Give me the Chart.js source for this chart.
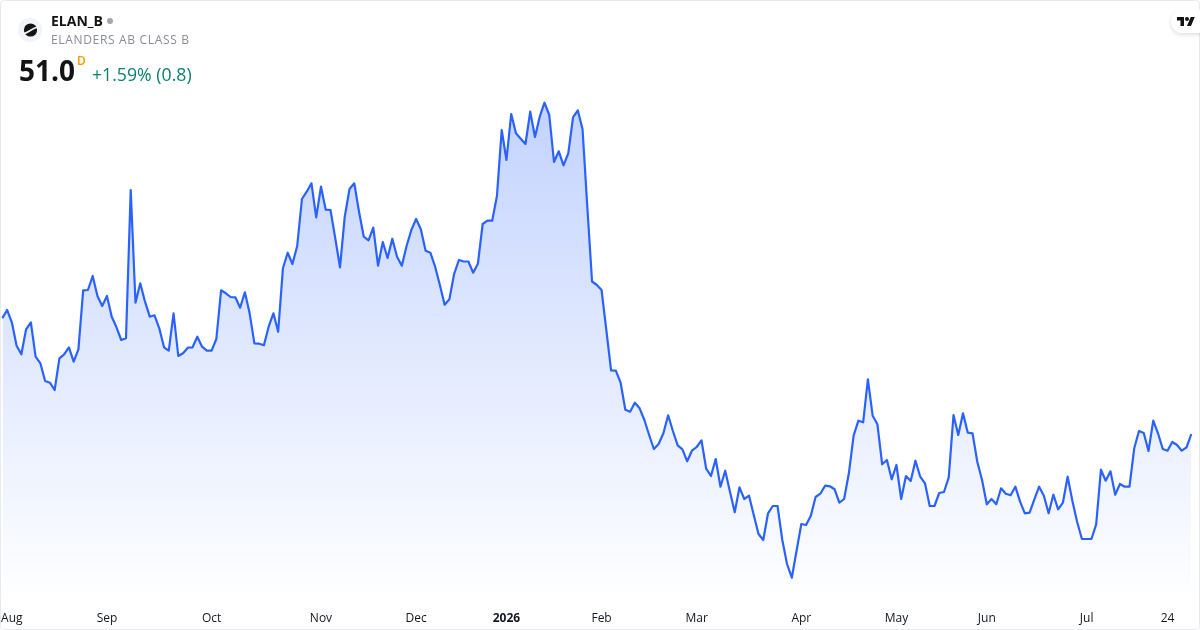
<!DOCTYPE html>
<html>
<head>
<meta charset="utf-8">
<title>ELAN_B</title>
<script src="https://cdn.jsdelivr.net/npm/chart.js@4"></script>
<style>
  html, body { margin: 0; padding: 0; background: #fff; }
  body { width: 1200px; height: 630px; overflow: hidden; position: relative; font-family: "Open Sans", sans-serif; }
  #card { position: absolute; inset: 0; border: 1px solid #e8eaef; border-radius: 4px; box-sizing: border-box; pointer-events: none; }
  #wrap { position: absolute; left: 0; top: 0; width: 1200px; height: 630px; }
  .t { position: absolute; white-space: nowrap; line-height: 1; }
  #symbol { left: 51px; top: 14px; font-size: 14px; font-weight: 700; color: #131313; }
  #dot { position: absolute; left: 107px; top: 18px; width: 6px; height: 6px; border-radius: 50%; background: #a3a6af; }
  #name { left: 51px; top: 34px; font-size: 12px; color: #8a8d96; letter-spacing: 0.67px; }
  #price { left: 19px; top: 56px; font-size: 28px; font-weight: 700; color: #131313; }
  #flag { left: 77px; top: 55px; font-size: 12px; font-weight: 600; color: #ff9800; }
  #change { left: 92px; top: 66px; font-size: 17.7px; color: #0b8170; }
  #logo { position: absolute; left: 18px; top: 18px; }
  #tv { position: absolute; left: 1171px; top: 10px; width: 40px; height: 23px; border-radius: 12px; background: #fff; box-shadow: 0 2px 4px rgba(0,0,0,0.12); }
  #tv svg { position: absolute; left: 6px; top: 6px; }
</style>
</head>
<body>
<div id="wrap"><canvas id="priceChart" width="1200" height="630"></canvas></div>
<div id="card"></div>
<svg id="logo" width="24" height="24" viewBox="0 0 24 24">
  <circle cx="12" cy="12" r="12" fill="#f0f3fa"/>
  <circle cx="12.5" cy="12" r="6.6" fill="#131313"/>
  <path d="M5 15.5C10 15.5 13 10.5 20 9" fill="none" stroke="#f0f3fa" stroke-width="1.6"/>
</svg>
<div class="t" id="symbol">ELAN_B</div>
<div id="dot"></div>
<div class="t" id="name">ELANDERS AB CLASS B</div>
<div class="t" id="price">51.0</div>
<div class="t" id="flag">D</div>
<div class="t" id="change">+1.59% (0.8)</div>
<div id="tv">
  <svg width="18" height="11" viewBox="0 0 36 22"><path d="M14 20H7V9H0V2h14v18zM28 20h-8l7.5-18h8L28 20z" fill="#131313"/><circle cx="20" cy="6" r="4" fill="#131313"/></svg>
</div>

<script>
const prices = [
  62.57, 63.4, 62.17, 59.83, 58.97, 61.47, 62.17, 58.73, 58.07, 56.3,
  56.13, 55.4, 58.57, 58.97, 59.67, 58.23, 59.47, 65.37, 65.4, 66.8,
  64.8, 63.8, 64.8, 62.73, 61.67, 60.4, 60.57, 75.4, 64.13, 66.07,
  64.23, 62.73, 62.87, 61.57, 59.67, 59.33, 63.07, 58.8, 59.07, 59.63,
  59.67, 60.73, 59.73, 59.33, 59.33, 60.5, 65.37, 65.07, 64.7, 64.67,
  63.63, 65.17, 63.07, 60.07, 60.03, 59.87, 61.73, 63.07, 61.23, 67.57,
  69.13, 68, 69.8, 74.5, 75.23, 76.07, 72.67, 75.73, 73.43, 73.4,
  70.57, 67.67, 72.73, 75.5, 76.07, 73.23, 70.73, 70.37, 71.63, 67.83,
  70.2, 68.6, 70.53, 68.73, 67.83, 69.8, 71.4, 72.5, 71.47, 69.33,
  69.13, 67.73, 65.9, 63.93, 64.47, 67, 68.4, 68.25, 68.25, 67.13,
  68.03, 72, 72.33, 72.33, 74.8, 81.4, 78.4, 83, 81.07, 80.53,
  80, 83.23, 80.7, 82.73, 84.13, 82.9, 78.2, 79.27, 77.87, 79.07,
  82.67, 83.37, 81.47, 73.73, 66.25, 65.9, 65.4, 61.4, 57.37, 57.33,
  56.13, 53.43, 53.23, 54.13, 53.57, 52.4, 50.9, 49.5, 50, 51.07,
  52.87, 51.3, 49.87, 49.47, 48.27, 49.33, 49.7, 50.37, 47.53, 46.8,
  48.5, 45.73, 47.33, 45.23, 43.17, 45.67, 44.5, 44.83, 42.9, 41,
  40.4, 43.07, 43.8, 43.8, 40.4, 38, 36.63, 39.33, 42, 41.9,
  42.83, 44.7, 45.03, 45.83, 45.77, 45.47, 44.13, 44.5, 47.07, 50.83,
  52.33, 52.17, 56.47, 52.83, 51.97, 47.97, 48.4, 46.47, 47.9, 44.5,
  46.8, 46.3, 48.33, 46.73, 46.07, 43.8, 43.8, 45.1, 45.2, 46.67,
  52.9, 50.9, 53.07, 51.13, 51.07, 48.23, 46.4, 43.97, 44.5, 43.98,
  45.57, 45.03, 44.87, 45.73, 44.23, 43.07, 43.13, 44.47, 45.73, 44.83,
  43.07, 44.93, 43.47, 44.13, 46.73, 44.3, 42.2, 40.5, 40.5, 40.5,
  41.97, 47.43, 46.33, 47.27, 44.93, 46, 45.73, 45.73, 49.57, 51.3,
  51.1, 49.3, 52.33, 51.07, 49.5, 49.33, 50.2, 49.9, 49.33, 49.67,
  51
];

const tickLabels = ["Aug", "Sep", "Oct", "Nov", "Dec", "2026", "Feb", "Mar", "Apr", "May", "Jun", "Jul", "24"];
const tickBars = [2, 22, 44, 67, 87, 106, 126, 146, 168, 188, 207, 228, 245];

const categories = prices.map((p, i) => {
  const at = tickBars.indexOf(i);
  return at >= 0 ? tickLabels[at] : "";
});

// area fades from the top of the series down to the axis
function areaFill(context) {
  const area = context.chart.chartArea;
  if (!area) return "rgba(41,98,255,0.1)";
  const g = context.chart.ctx.createLinearGradient(0, 102, 0, area.bottom);
  g.addColorStop(0, "rgba(41,98,255,0.28)");
  g.addColorStop(1, "rgba(41,98,255,0)");
  return g;
}

new Chart(document.getElementById("priceChart").getContext("2d"), {
  type: "line",
  data: {
    labels: categories,
    datasets: [{
      label: "ELAN_B",
      data: prices,
      borderColor: "#2962ff",
      borderWidth: 2.2,
      backgroundColor: areaFill,
      fill: "start",
      pointRadius: 0,
      tension: 0,
      borderJoinStyle: "round"
    }]
  },
  options: {
    responsive: false,
    animation: false,
    layout: { padding: { left: 2.33, right: 8.7, top: 0, bottom: 0 } },
    plugins: { legend: { display: false }, tooltip: { enabled: false } },
    scales: {
      x: {
        offset: false,
        grid: { display: false, drawTicks: false },
        border: { display: false },
        afterFit(scale) {
          scale.height = 27;
          scale.paddingLeft = 0;
          scale.paddingRight = 0;
        },
        ticks: {
          autoSkip: false,
          maxRotation: 0,
          minRotation: 0,
          padding: 8,
          color: "#131722",
          font(c) {
            return c.tick && c.tick.label === "2026"
              ? { family: "Open Sans", size: 12, weight: "700" }
              : { family: "Open Sans", size: 12 };
          }
        }
      },
      y: { display: false, min: 34.1, max: 94.4 }
    }
  }
});
</script>
</body>
</html>
